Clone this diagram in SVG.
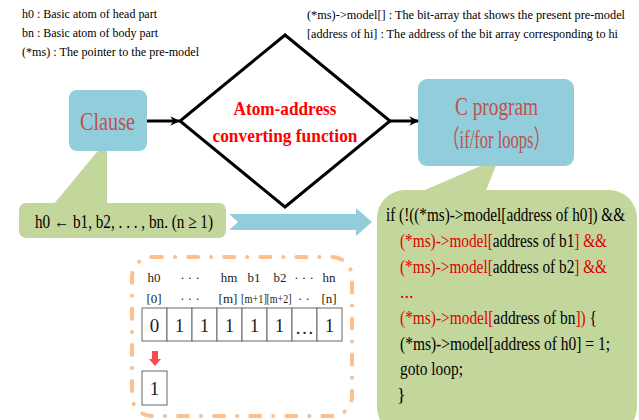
<svg xmlns="http://www.w3.org/2000/svg" width="639" height="420" viewBox="0 0 639 420" font-family="'Liberation Serif', 'Times New Roman', Tinos, 'DejaVu Serif', serif">
  <defs>
    <marker id="arrowhead" viewBox="0 0 10 10" refX="9" refY="5" markerWidth="3.2" markerHeight="3.2" orient="auto" markerUnits="strokeWidth">
      <path d="M0,0 L10,5 L0,10 L3,5 Z" fill="#000"/>
    </marker>
    <style>
      .note { font-size: 13px; fill: #000; }
      .box { fill: #92cddc; }
      .green { fill: #c3d69b; }
      .title { font-size: 25px; fill: #c0504d; }
      .code { font-size: 18px; fill: #000; }
      .red { fill: #e00000; }
      .lbl { font-size: 13px; fill: #222; text-anchor: middle; }
      .cell { fill: #fff; stroke: #666; stroke-width: 1; }
      .digit { font-size: 19px; fill: #222; text-anchor: middle; }
      .link { stroke: #000; stroke-width: 3; fill: none; marker-end: url(#arrowhead); }
    </style>
  </defs>
  <rect width="639" height="420" fill="#fff"/>

  <!-- legend notes -->
  <g id="legend-left">
    <text class="note" x="22" y="18" textLength="135" lengthAdjust="spacingAndGlyphs">h0 : Basic atom of head part</text>
    <text class="note" x="22" y="37" textLength="136" lengthAdjust="spacingAndGlyphs">bn : Basic atom of body part</text>
    <text class="note" x="22" y="56" textLength="177" lengthAdjust="spacingAndGlyphs">(*ms) : The pointer to the pre-model</text>
  </g>
  <g id="legend-right">
    <text class="note" x="307" y="19" textLength="318" lengthAdjust="spacingAndGlyphs">(*ms)-&gt;model[] : The bit-array that shows the present pre-model</text>
    <text class="note" x="307" y="38" textLength="311" lengthAdjust="spacingAndGlyphs">[address of hi] : The address of the bit array corresponding to hi</text>
  </g>

  <!-- callout under the clause box -->
  <g id="clause-callout">
    <polygon class="green" points="53,205 107,140 107,205"/>
    <rect class="green" x="19" y="203" width="207" height="35" rx="7"/>
    <text x="35" y="228" font-size="19" fill="#000" textLength="178" lengthAdjust="spacingAndGlyphs">h0 ← b1, b2, . . . , bn. (n ≥ 1)</text>
  </g>

  <!-- callout under the C program box -->
  <g id="code-callout">
    <polygon class="green" points="418,193 499,158 485,193"/>
    <rect class="green" x="377" y="190" width="260" height="245" rx="28"/>
    <text class="code" x="386" y="221" textLength="239" lengthAdjust="spacingAndGlyphs">if (!((*ms)-&gt;model[address of h0]) &amp;&amp;</text>
    <text class="code" x="400" y="247" textLength="207" lengthAdjust="spacingAndGlyphs"><tspan class="red">(*ms)-&gt;model[</tspan>address of b1<tspan class="red">] &amp;&amp;</tspan></text>
    <text class="code" x="400" y="273" textLength="207" lengthAdjust="spacingAndGlyphs"><tspan class="red">(*ms)-&gt;model[</tspan>address of b2<tspan class="red">] &amp;&amp;</tspan></text>
    <text class="code red" x="400" y="298">...</text>
    <text class="code" x="400" y="324" textLength="197" lengthAdjust="spacingAndGlyphs"><tspan class="red">(*ms)-&gt;model[</tspan>address of bn<tspan class="red">])</tspan> {</text>
    <text class="code" x="400" y="350" textLength="210" lengthAdjust="spacingAndGlyphs">(*ms)-&gt;model[address of h0] = 1;</text>
    <text class="code" x="400" y="375" textLength="63" lengthAdjust="spacingAndGlyphs">goto loop;</text>
    <text class="code" x="397" y="401">}</text>
  </g>

  <!-- nodes -->
  <g id="clause">
    <rect class="box" x="69" y="90" width="78" height="61" rx="8"/>
    <text class="title" x="80" y="130" font-size="26" textLength="55" lengthAdjust="spacingAndGlyphs">Clause</text>
  </g>

  <g id="converter">
    <polygon points="285,35 390,121 285,207 180,121" fill="#fff" stroke="#000" stroke-width="3"/>
    <text x="285" y="115" font-size="19" font-weight="bold" fill="#ff0000" text-anchor="middle" textLength="103" lengthAdjust="spacingAndGlyphs">Atom-address</text>
    <text x="285" y="142" font-size="19" font-weight="bold" fill="#ff0000" text-anchor="middle" textLength="145" lengthAdjust="spacingAndGlyphs">converting function</text>
  </g>

  <g id="c-program">
    <rect class="box" x="418" y="79" width="156" height="87" rx="9"/>
    <text class="title" x="455" y="115" textLength="83" lengthAdjust="spacingAndGlyphs">C program</text>
    <text class="title" x="443" y="148" textLength="107" lengthAdjust="spacingAndGlyphs" font-family="'Liberation Serif', 'Noto Sans CJK SC', serif">（if/for loops）</text>
  </g>

  <!-- bit array illustration -->
  <g id="bit-array">
    <rect x="132" y="257" width="220" height="159" rx="20" fill="none" stroke="#fac090" stroke-width="4" stroke-linecap="round" stroke-dasharray="10 13 0.1 13"/>
    <text class="lbl" x="154" y="282">h0</text>
    <text class="lbl" x="190" y="282">· · ·</text>
    <text class="lbl" x="229" y="282">hm</text>
    <text class="lbl" x="254" y="282">b1</text>
    <text class="lbl" x="280" y="282">b2</text>
    <text class="lbl" x="304" y="282">· · ·</text>
    <text class="lbl" x="329" y="282">hn</text>
    <text class="lbl" x="154" y="303">[0]</text>
    <text class="lbl" x="190" y="303">· · ·</text>
    <text class="lbl" x="228" y="303">[m]</text>
    <text class="lbl" x="254" y="303" textLength="26" lengthAdjust="spacingAndGlyphs">[m+1]</text>
    <text class="lbl" x="279" y="303" textLength="25" lengthAdjust="spacingAndGlyphs">[m+2]</text>
    <text class="lbl" x="304" y="303">· ·</text>
    <text class="lbl" x="329" y="303">[n]</text>
    <rect class="cell" x="142" y="308" width="25" height="33"/>
    <rect class="cell" x="167" y="308" width="25" height="33"/>
    <rect class="cell" x="192" y="308" width="25" height="33"/>
    <rect class="cell" x="217" y="308" width="25" height="33"/>
    <rect class="cell" x="242" y="308" width="25" height="33"/>
    <rect class="cell" x="267" y="308" width="25" height="33"/>
    <rect class="cell" x="292" y="308" width="25" height="33"/>
    <rect class="cell" x="317" y="308" width="25" height="33"/>
    <text class="digit" x="154.5" y="332">0</text>
    <text class="digit" x="179.5" y="332">1</text>
    <text class="digit" x="204.5" y="332">1</text>
    <text class="digit" x="229.5" y="332">1</text>
    <text class="digit" x="254.5" y="332">1</text>
    <text class="digit" x="279.5" y="332">1</text>
    <text class="digit" x="304.5" y="334" font-size="13">…</text>
    <text class="digit" x="329.5" y="332">1</text>
    <polygon points="152,351 158,351 158,359 161,359 155,366 149,359 152,359" fill="#ff4b4b"/>
    <rect class="cell" x="142" y="371" width="25" height="34"/>
    <text class="digit" x="154.5" y="395">1</text>
  </g>

  <!-- connectors -->
  <g id="connectors">
    <line class="link" x1="147" y1="121" x2="179" y2="121"/>
    <line class="link" x1="390" y1="121" x2="418" y2="121"/>
    <polygon class="box" points="229,214 356,214 356,208 372,222 356,236 356,230 229,230 238,222"/>
  </g>
</svg>
